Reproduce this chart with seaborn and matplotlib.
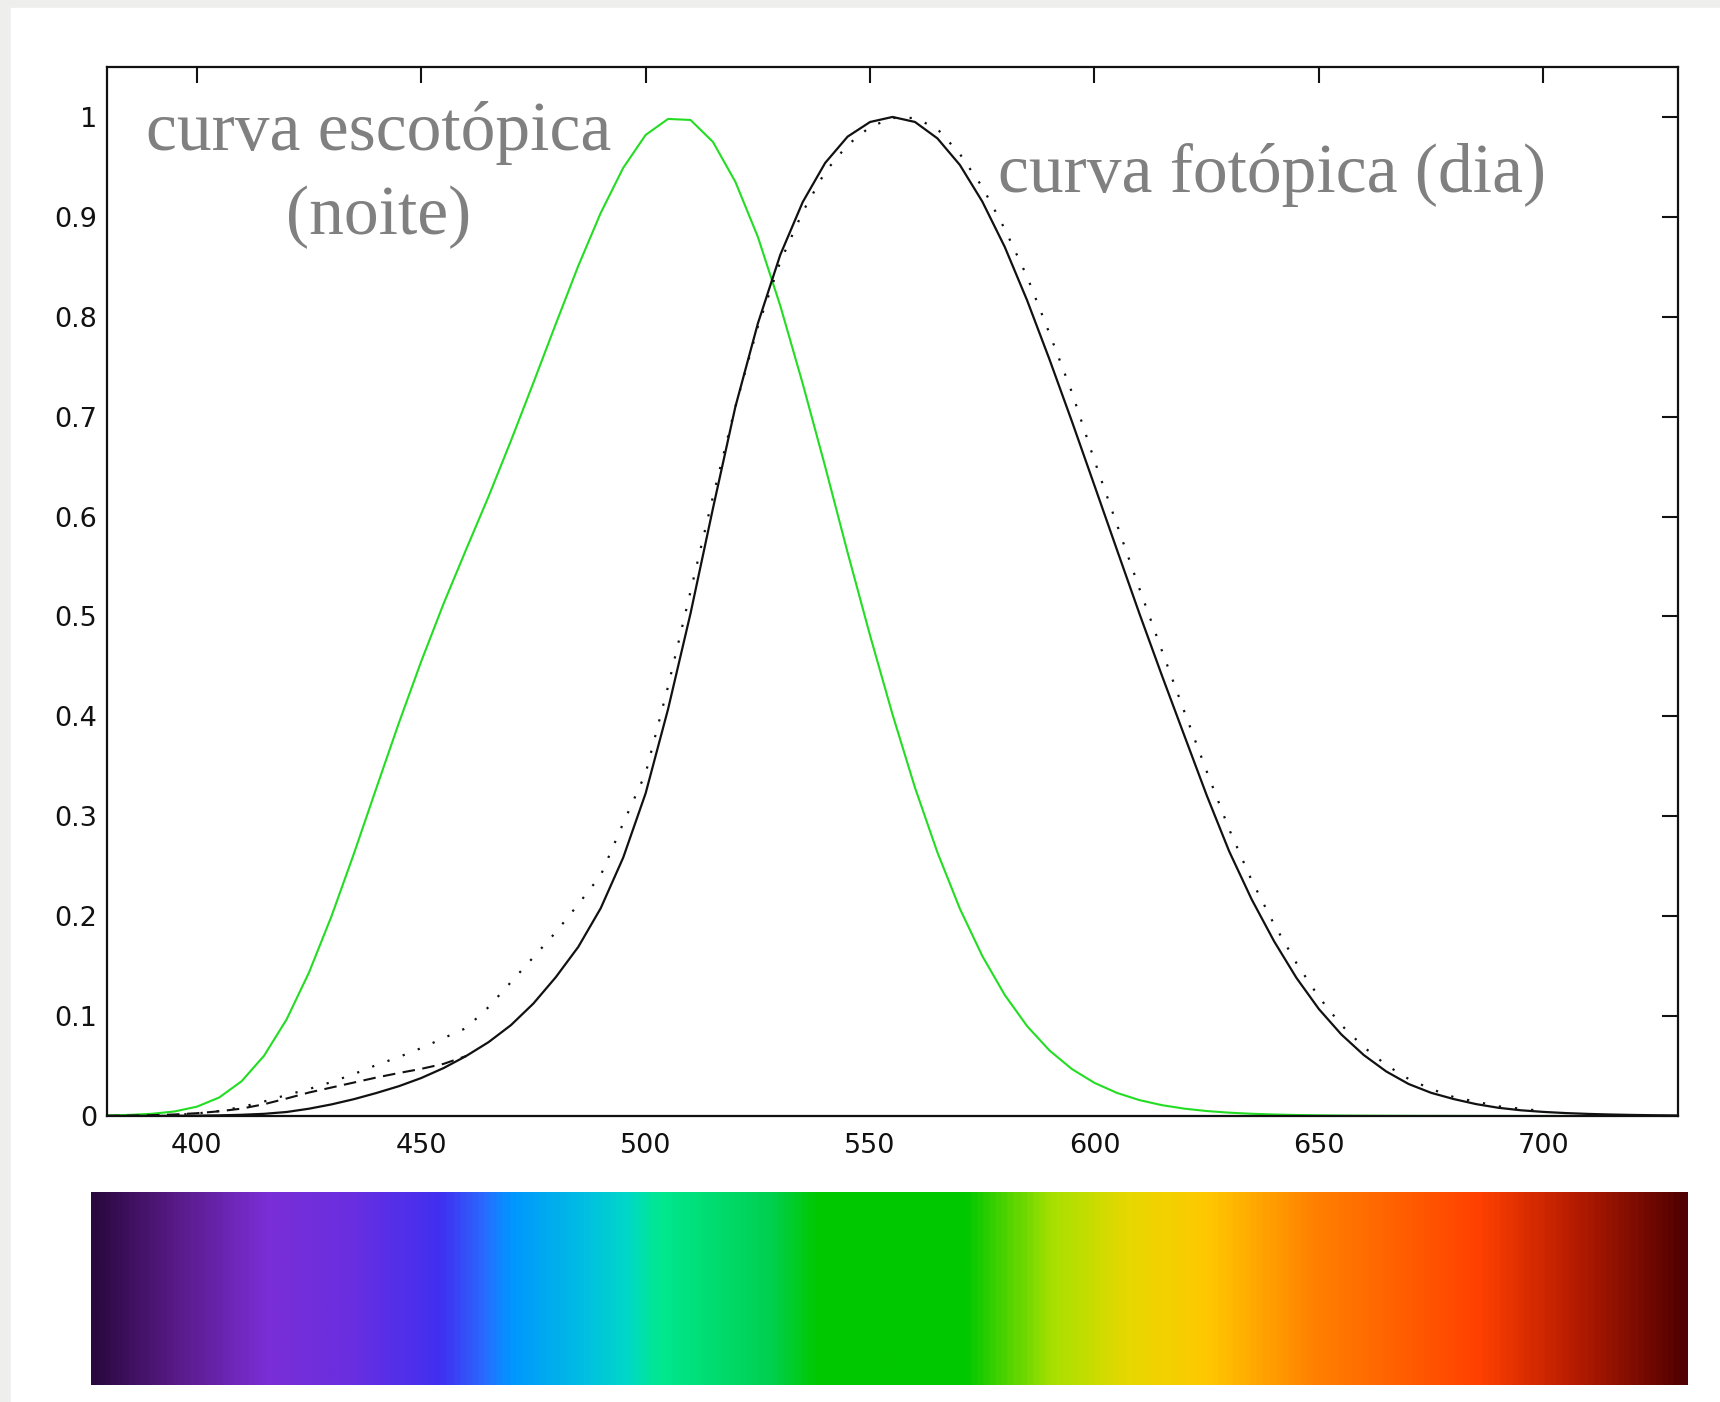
import seaborn as sns
import matplotlib.pyplot as plt
import numpy as np
from matplotlib.colors import LinearSegmentedColormap
from matplotlib.patches import Rectangle

# comprimentos de onda (nm)
wl = [380, 385, 390, 395, 400, 405, 410, 415, 420, 425, 430, 435, 440, 445,
      450, 455, 460, 465, 470, 475, 480, 485, 490, 495, 500, 505, 510, 515,
      520, 525, 530, 535, 540, 545, 550, 555, 560, 565, 570, 575, 580, 585,
      590, 595, 600, 605, 610, 615, 620, 625, 630, 635, 640, 645, 650, 655,
      660, 665, 670, 675, 680, 685, 690, 695, 700, 705, 710, 715, 720, 725, 730]

# curva escotópica (noite)
escotopica = [0.000589, 0.001108, 0.002209, 0.00453, 0.00929, 0.01852, 0.03484,
              0.0604, 0.0966, 0.1436, 0.1998, 0.2625, 0.3281, 0.3931, 0.455,
              0.513, 0.567, 0.620, 0.676, 0.734, 0.793, 0.851, 0.904, 0.949,
              0.982, 0.998, 0.997, 0.975, 0.935, 0.880, 0.811, 0.733, 0.650,
              0.564, 0.481, 0.402, 0.3288, 0.2639, 0.2076, 0.1602, 0.1212,
              0.0899, 0.0655, 0.0469, 0.03315, 0.02312, 0.01593, 0.01088,
              0.00737, 0.00497, 0.003335, 0.002235, 0.001497, 0.001005,
              0.000677, 0.000459, 0.000313, 0.000215, 0.000148, 0.000103,
              0.0000715, 0.00005, 0.0000353, 0.000025, 0.0000178, 0.0000127,
              0.0000091, 0.0000066, 0.0000048, 0.0000035, 0.0000025]

# curva fotópica (dia)
fotopica = [0.000039, 0.000064, 0.00012, 0.000217, 0.000396, 0.00064, 0.00121,
            0.00218, 0.004, 0.0073, 0.0116, 0.01684, 0.023, 0.0298, 0.038,
            0.048, 0.06, 0.0739, 0.09098, 0.1126, 0.13902, 0.1693, 0.20802,
            0.2586, 0.323, 0.4073, 0.503, 0.6082, 0.71, 0.7932, 0.862, 0.91485,
            0.954, 0.9803, 0.99495, 1.0, 0.995, 0.9786, 0.952, 0.9154, 0.87,
            0.8163, 0.757, 0.6949, 0.631, 0.5668, 0.503, 0.4412, 0.381, 0.321,
            0.265, 0.217, 0.175, 0.1382, 0.107, 0.0816, 0.061, 0.04458, 0.032,
            0.0232, 0.017, 0.01192, 0.00821, 0.005723, 0.004102, 0.002929,
            0.002091, 0.001484, 0.001047, 0.00074, 0.00052]

# fotópica modificada (tracejada, só no azul)
wl_mod = [380, 385, 390, 395, 400, 405, 410, 415, 420, 425, 430, 435, 440,
          445, 450, 455, 460]
fotopica_mod = [0.0002, 0.0004, 0.0008, 0.0015, 0.0028, 0.0047, 0.0074,
                0.0118, 0.0175, 0.0235, 0.0285, 0.0335, 0.0385, 0.043, 0.0472,
                0.0522, 0.06]

# fotópica alternativa (pontilhada)
wl_alt = [390, 395, 400, 405, 410, 415, 420, 425, 430, 435, 440, 445, 450,
          455, 460, 465, 470, 475, 480, 485, 490, 495, 500, 505, 510, 515,
          520, 525, 530, 535, 540, 545, 550, 555, 560, 565, 570, 575, 580,
          585, 590, 595, 600, 605, 610, 615, 620, 625, 630, 635, 640, 645,
          650, 655, 660, 665, 670, 675, 680, 690, 700]
fotopica_alt = [0.0004, 0.001, 0.0025, 0.005, 0.009, 0.0145, 0.021, 0.027,
                0.034, 0.042, 0.051, 0.059, 0.068, 0.078, 0.088, 0.109, 0.134,
                0.159, 0.184, 0.212, 0.241, 0.293, 0.343, 0.43, 0.525, 0.62,
                0.71, 0.79, 0.855, 0.905, 0.945, 0.972, 0.99, 0.999, 0.999,
                0.988, 0.963, 0.93, 0.888, 0.84, 0.783, 0.724, 0.656, 0.592,
                0.528, 0.466, 0.405, 0.345, 0.287, 0.236, 0.192, 0.153, 0.119,
                0.091, 0.069, 0.051, 0.037, 0.027, 0.019, 0.0097, 0.0049]

x_ticks = [400, 450, 500, 550, 600, 650, 700]
y_ticks = [0, 0.1, 0.2, 0.3, 0.4, 0.5, 0.6, 0.7, 0.8, 0.9, 1]
y_labels = ["0", "0.1", "0.2", "0.3", "0.4", "0.5", "0.6", "0.7", "0.8", "0.9", "1"]

# cores do espectro (posição relativa na barra)
spec_pos = [0.0, 0.05, 0.108, 0.16, 0.218, 0.245, 0.262, 0.31, 0.335, 0.355,
            0.425, 0.455, 0.548, 0.603, 0.651, 0.70, 0.768, 0.871, 0.93, 1.0]
spec_cores = ["#2a0840", "#581a86", "#7a2ed6", "#6a2ee0", "#4030f0", "#2a6aff",
              "#0096ff", "#00c0e0", "#00d8c8", "#00e890", "#00d050", "#00c800",
              "#00c800", "#a8e000", "#e8d800", "#ffc800", "#ff8000", "#ff4000",
              "#b81c00", "#500000"]

sns.set_style("white")
plt.rcParams['font.family'] = ['DejaVu Sans']

fig = plt.figure(figsize=(17.2, 14.02), dpi=100, facecolor='#eeeeec')
fig.patches.append(Rectangle((11 / 1720, 0), 1, (1402 - 8) / 1402,
                             transform=fig.transFigure, color='white', zorder=-1))

ax = fig.add_axes([107 / 1720, 286 / 1402, 1571 / 1720, 1049 / 1402])
ax.set_facecolor('white')

sns.lineplot(x=wl, y=escotopica, ax=ax, color='#22dd22', lw=1.5,
             sort=False, estimator=None)
sns.lineplot(x=wl_alt, y=fotopica_alt, ax=ax, color='#111111', lw=1.6,
             sort=False, estimator=None, linestyle=(0, (1, 6.3)))
sns.lineplot(x=wl_mod, y=fotopica_mod, ax=ax, color='#111111', lw=1.5,
             sort=False, estimator=None, linestyle=(0, (6, 3.6)))
sns.lineplot(x=wl, y=fotopica, ax=ax, color='#111111', lw=1.6,
             sort=False, estimator=None)

ax.set_xlim(380, 730)
ax.set_ylim(0, 1.05)
ax.set_xticks(x_ticks)
ax.set_xticklabels([str(v) for v in x_ticks])
ax.set_yticks(y_ticks)
ax.set_yticklabels(y_labels)
ax.tick_params(direction='in', length=11.5, width=1.5, top=True, right=True,
               labelsize=19.5, colors='#111111')
ax.tick_params(axis='x', pad=12)
ax.tick_params(axis='y', pad=7)
for s in ax.spines.values():
    s.set_visible(True)
    s.set_color('#111111')
    s.set_linewidth(1.6)

serif = ['Liberation Serif', 'DejaVu Serif']
ax.text(440.5, 0.967, "curva escotópica", ha='center', va='baseline',
        fontsize=50, color='#808080', family=serif)
ax.text(440.5, 0.8825, "(noite)", ha='center', va='baseline',
        fontsize=50, color='#808080', family=serif)
ax.text(578.4, 0.925, "curva fotópica (dia)", ha='left', va='baseline',
        fontsize=50, color='#808080', family=serif)

# barra do espectro visível
cmap = LinearSegmentedColormap.from_list("espectro", list(zip(spec_pos, spec_cores)))
bar_ax = fig.add_axes([91 / 1720, 17 / 1402, 1597 / 1720, 193 / 1402])
bar_ax.imshow(np.linspace(0, 1, 800)[None, :], aspect='auto', cmap=cmap,
              extent=(0, 1, 0, 1))
bar_ax.set_axis_off()

fig.savefig("out.png", dpi=100, facecolor=fig.get_facecolor())
